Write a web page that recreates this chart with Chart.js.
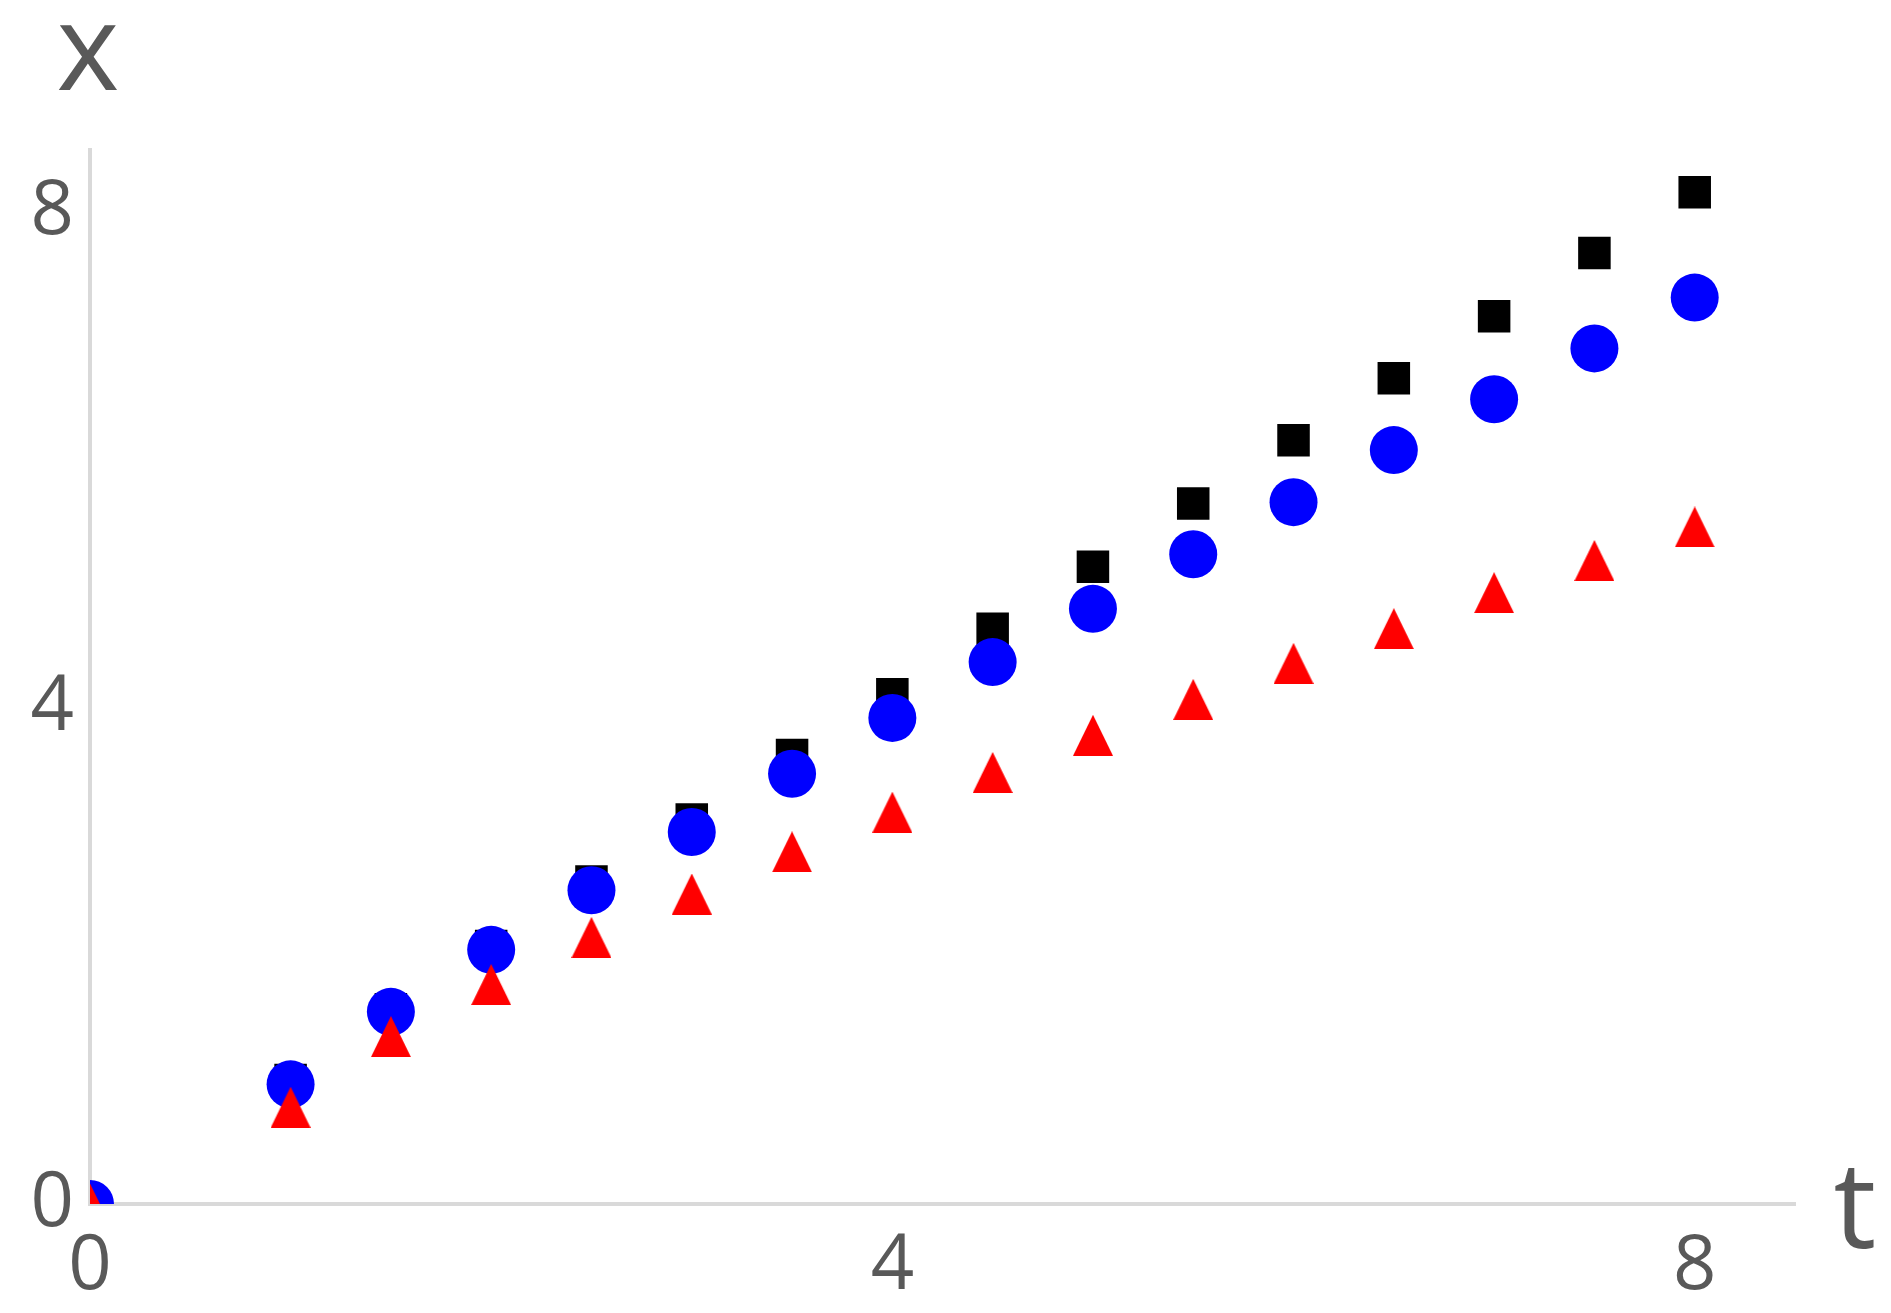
<!DOCTYPE html>
<html>
<head>
<meta charset="utf-8">
<script src="https://cdn.jsdelivr.net/npm/chart.js@4.4.0/dist/chart.umd.min.js"></script>
<style>
	body { margin: 0; background: #ffffff; }
	#plot-canvas { display: block; }
</style>
</head>
<body>
<canvas id="plot-canvas" width="1891" height="1313"></canvas>
<script>
// time values shared by the three series
var tValues = [0, 1, 1.5, 2, 2.5, 3, 3.5, 4, 4.5, 5, 5.5, 6, 6.5, 7, 7.5, 8];

// x(t)
var squareValues = [0, 1.0, 1.57, 2.08, 2.60, 3.10, 3.62, 4.11, 4.64, 5.14, 5.65, 6.16, 6.66, 7.16, 7.67, 8.16];
var circleValues = [0, 0.965, 1.55, 2.05, 2.53, 3.00, 3.47, 3.92, 4.37, 4.80, 5.24, 5.66, 6.08, 6.49, 6.90, 7.31];
var triangleValues = [0, 0.78, 1.35, 1.77, 2.15, 2.50, 2.84, 3.16, 3.48, 3.78, 4.07, 4.36, 4.64, 4.93, 5.19, 5.46];

var tickValues = [0, 4, 8];
var axisMax = 8.5;

function toPoints(values) {
	var points = [];
	for(let i = 0; i < tValues.length; i++)
		points.push({x: tValues[i], y: values[i]});
	return points;
}

// the triangles in the picture are a bit taller than equilateral, so use a small canvas as marker
function makeTriangleMarker(width, height, color) {
	var marker = document.createElement("canvas");
	var mctx;
	marker.width = width;
	marker.height = height;
	mctx = marker.getContext("2d");
	mctx.fillStyle = color;
	mctx.beginPath();
	mctx.moveTo(width / 2, 0);
	mctx.lineTo(width, height);
	mctx.lineTo(0, height);
	mctx.closePath();
	mctx.fill();
	return marker;
}

var axisNamesPlugin = {
	id: "axisNames",
	afterDraw: function(chart) {
		var ctx = chart.ctx;
		var area = chart.chartArea;
		ctx.save();
		ctx.fillStyle = "#595959";
		ctx.font = "120px 'Open Sans'";
		ctx.textAlign = "center";
		ctx.textBaseline = "alphabetic";
		ctx.fillText("x", area.left - 2, 90);
		ctx.fillText("t", area.right + 60, 1248);
		ctx.restore();
	}
};

window.onload = function() {
	var tickFont = {family: "'Open Sans'", size: 76};

	new Chart(document.getElementById("plot-canvas"), {
		type: "scatter",
		data: {
			datasets: [
				{
					label: "triangle",
					data: toPoints(triangleValues),
					pointStyle: makeTriangleMarker(40, 41, "#ff0000"),
					pointRadius: 20,
					pointBackgroundColor: "#ff0000",
					pointBorderWidth: 0,
					clip: 0,
					order: 1
				},
				{
					label: "circle",
					data: toPoints(circleValues),
					pointStyle: "circle",
					pointRadius: 24,
					pointBackgroundColor: "#0000ff",
					pointBorderWidth: 0,
					clip: 0,
					order: 2
				},
				{
					label: "square",
					data: toPoints(squareValues),
					pointStyle: "rect",
					pointRadius: 23,
					pointBackgroundColor: "#000000",
					pointBorderWidth: 0,
					clip: 0,
					order: 3
				}
			]
		},
		options: {
			responsive: false,
			animation: false,
			layout: {
				padding: {top: 150, right: 96, left: 0, bottom: 0}
			},
			plugins: {
				legend: {display: false},
				tooltip: {enabled: false}
			},
			scales: {
				x: {
					type: "linear",
					min: 0,
					max: axisMax,
					afterFit: function(scale) { scale.height = 109; },
					afterBuildTicks: function(scale) { scale.ticks = tickValues.map(function(v) { return {value: v}; }); },
					grid: {display: false, drawTicks: false},
					border: {color: "#d9d9d9", width: 4},
					ticks: {color: "#595959", font: tickFont, padding: 18, maxRotation: 0}
				},
				y: {
					type: "linear",
					min: 0,
					max: axisMax,
					afterFit: function(scale) { scale.width = 90; },
					afterBuildTicks: function(scale) { scale.ticks = tickValues.map(function(v) { return {value: v}; }); },
					grid: {display: false, drawTicks: false},
					border: {color: "#d9d9d9", width: 4},
					ticks: {color: "#595959", font: tickFont, padding: 16}
				}
			}
		},
		plugins: [axisNamesPlugin]
	});
}
</script>
</body>
</html>
